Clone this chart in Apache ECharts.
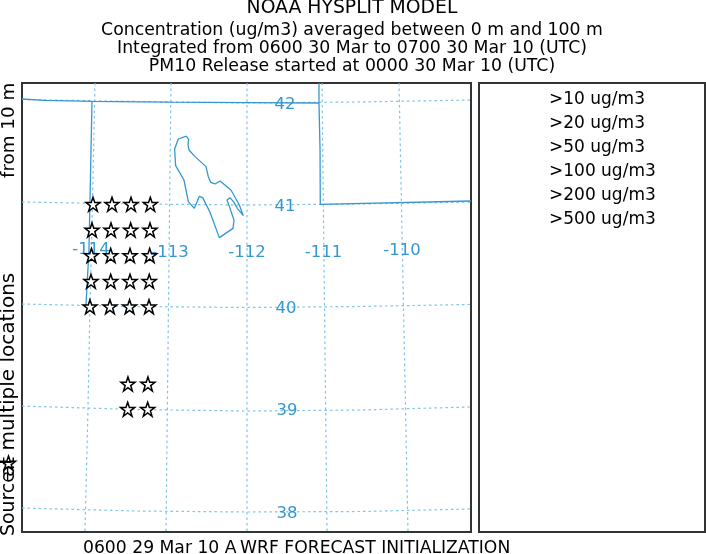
<!DOCTYPE html>
<html><head><meta charset="utf-8">
<style>html,body{margin:0;padding:0;background:#fff}#c{width:706px;height:554px}</style>
<script src="https://cdn.jsdelivr.net/npm/echarts@6/dist/echarts.min.js"></script>
</head><body><div id="c"></div>
<script>
const titleLines = ['NOAA HYSPLIT MODEL','Concentration (ug/m3) averaged between 0 m and 100 m','Integrated from 0600 30 Mar to 0700 30 Mar 10 (UTC)','PM10 Release started at 0000 30 Mar 10 (UTC)'];
const legendLabels = ['>10 ug/m3','>20 ug/m3','>50 ug/m3','>100 ug/m3','>200 ug/m3','>500 ug/m3'];
const sideTexts = ['from 10 m','Source','at multiple locations'];
const bottomTexts = ['0600 29 Mar 10 A','WRF FORECAST INITIALIZATION'];

// map values in degrees (lon, lat)
const meridians = [
 [[-114.0,42.196],[-114.033,41.0],[-114.066,40.0],[-114.092,39.0],[-114.132,37.794]],
 [[-113.0,42.196],[-113.033,40.0],[-113.066,37.794]],
 [[-112.0,42.196],[-112.0,37.794]],
 [[-111.013,42.196],[-110.98,40.0],[-110.947,37.794]],
 [[-110.0,42.196],[-109.941,40.0],[-109.882,37.794]]
];
const parallels = [
 [[-114.96,42.034],[-113.474,42.015],[-112,42.0],[-110.513,42.01],[-109.053,42.029]],
 [[-114.96,41.029],[-113.474,41.01],[-112,41.0],[-110.513,41.01],[-109.053,41.029]],
 [[-114.96,40.029],[-113.474,40.005],[-112,39.995],[-110.513,40.005],[-109.053,40.025]],
 [[-114.96,39.029],[-113.474,38.995],[-112,38.98],[-110.513,38.99],[-109.053,39.02]],
 [[-114.96,38.029],[-113.474,38.0],[-112,37.99],[-110.513,37.995],[-109.053,38.02]]
];
const idahoLine = [[-114.961,42.039],[-114.658,42.025],[-114.039,42.015],[-113.013,42.008],[-112,42.003],[-111.053,42.0]];
const wyomingLine = [[-111.053,42.196],[-111.053,42.0],[-111.039,41.539],[-111.036,41.007],[-109.053,41.039]];
const nevadaLine = [[-114.039,42.015],[-114.053,41.51],[-114.066,41.02],[-114.079,40.559],[-114.118,40.02]];
const lakeLine = [[-112.798,41.676],[-112.768,41.644],[-112.776,41.595],[-112.763,41.539],[-112.684,41.474],[-112.539,41.376],[-112.509,41.278],[-112.478,41.222],[-112.421,41.206],[-112.355,41.235],[-112.211,41.147],[-112.101,41.0],[-112.048,40.895],[-112.127,40.967],[-112.171,41.026],[-112.224,41.072],[-112.263,41.049],[-112.232,40.984],[-112.171,40.853],[-112.184,40.771],[-112.364,40.68],[-112.487,40.928],[-112.583,41.072],[-112.627,41.085],[-112.693,40.967],[-112.772,41.033],[-112.829,41.245],[-112.939,41.386],[-112.952,41.549],[-112.904,41.647],[-112.798,41.676]];
const sources = [[-114.026,41.007],[-113.776,41.007],[-113.526,41.007],[-113.272,41.007],
 [-114.039,40.755],[-113.789,40.755],[-113.53,40.755],[-113.276,40.755],
 [-114.046,40.505],[-113.793,40.505],[-113.539,40.505],[-113.28,40.505],
 [-114.053,40.252],[-113.793,40.252],[-113.539,40.252],[-113.286,40.252],
 [-114.066,40.003],[-113.803,40.003],[-113.545,40.003],[-113.289,40.003],
 [-113.566,39.245],[-113.303,39.245],[-113.57,38.997],[-113.307,38.997]];
const sideStar = [[-115.138,38.47]];
const latLabels = [[-111.5,41.985,'42'],[-111.5,40.985,'41'],[-111.487,39.985,'40'],[-111.474,38.985,'39'],[-111.474,37.97,'38']];
const lonLabels = [[-114.053,40.559,'-114'],[-113.013,40.529,'-113'],[-112,40.529,'-112'],[-110.993,40.529,'-111'],[-109.961,40.549,'-110']];

const FONT = '"DejaVu Sans"';
const BLUE = '#3597cf';
const STAR = 'path://M50 2 L62 37 L98 37 L69 59 L80 95 L50 73 L20 95 L31 59 L2 37 L38 37 Z';

function lineSeries(pts, style, z){
  return {type:'line',xAxisIndex:0,yAxisIndex:0,data:pts,symbol:'none',silent:true,animation:false,z:z,lineStyle:style};
}
const gratStyle = {color:'#7cc4e8',width:1.2,type:[2.5,3]};
const bordStyle = {color:BLUE,width:1.3,type:'solid'};
const series = [];
meridians.concat(parallels).forEach(p=>series.push(lineSeries(p,gratStyle,2)));
[idahoLine,wyomingLine,nevadaLine,lakeLine].forEach(p=>series.push(lineSeries(p,bordStyle,3)));
series.push({type:'scatter',xAxisIndex:0,yAxisIndex:0,data:latLabels.concat(lonLabels),symbolSize:0,silent:true,animation:false,z:4,
  itemStyle:{opacity:1},
  label:{show:true,position:'inside',formatter:p=>p.value[2],color:BLUE,fontFamily:FONT,fontSize:16.5,opacity:1}});
series.push({type:'scatter',xAxisIndex:0,yAxisIndex:0,data:sources.concat(sideStar),clip:false,symbol:STAR,symbolSize:14,silent:true,animation:false,z:5,
  itemStyle:{color:'#fff',borderColor:'#000',borderWidth:1.5,opacity:1}});

const titleSpec = [[352,8,18.8],[352,30.5,17.3],[352,48.5,17.3],[352,66.5,17.3]];
const legendY = [100,124,148,172,196,220];
const graphic = [];
function txt(t,x,y,size,align,rot){
  const o={type:'text',x:x,y:y,z:10,style:{text:t,fill:'#000',font:size+'px '+FONT,textAlign:align,textVerticalAlign:'middle'}};
  if(rot) o.rotation=rot;
  graphic.push(o);
}
titleLines.forEach((t,i)=>txt(t,titleSpec[i][0],titleSpec[i][1],titleSpec[i][2],'center'));
legendLabels.forEach((t,i)=>txt(t,549,legendY[i],17,'left'));
txt(sideTexts[0],9,178,18.3,'left',Math.PI/2);
txt(sideTexts[1],9,536,18.9,'left',Math.PI/2);
txt(sideTexts[2],9,477,20,'left',Math.PI/2);
txt(bottomTexts[0],83,549,17.2,'left');
txt(bottomTexts[1],240,549,17.2,'left');

const chart = echarts.init(document.getElementById('c'),null,{renderer:'canvas'});
chart.setOption({
  animation:false,backgroundColor:'#fff',
  grid:[
    {left:22,top:83,width:449,height:449,show:true,borderColor:'#333',borderWidth:2,backgroundColor:'#fff'},
    {left:479,top:83,width:226,height:449,show:true,borderColor:'#333',borderWidth:2,backgroundColor:'#fff'}
  ],
  xAxis:[{type:'value',gridIndex:0,min:-114.96,max:-109.053,show:false},{type:'value',gridIndex:1,min:0,max:1,show:false}],
  yAxis:[{type:'value',gridIndex:0,min:37.794,max:42.196,show:false},{type:'value',gridIndex:1,min:0,max:1,show:false}],
  series:series,
  graphic:graphic
});
</script></body></html>
